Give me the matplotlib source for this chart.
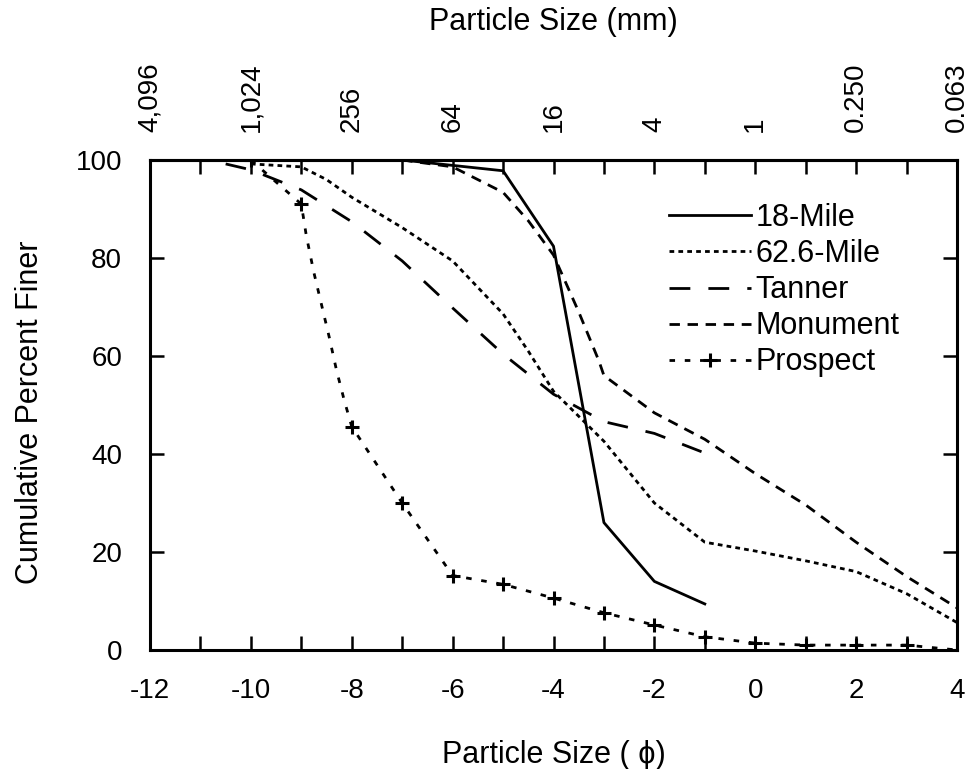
import matplotlib
matplotlib.use("Agg")
import matplotlib.pyplot as plt
from matplotlib.ticker import MultipleLocator, FixedLocator

plt.rcParams['font.family'] = ['Liberation Sans', 'DejaVu Sans']
plt.rcParams['lines.scale_dashes'] = False

# ---- data (phi units, cumulative percent finer) ----
phi_18 = [-7, -5, -4, -3, -2, -1]
pf_18 = [100, 97.8, 82.4, 26, 14, 9.4]

phi_626 = [-10, -9, -8.5, -8, -7, -6, -5, -4.5, -4, -3, -2, -1, 0, 1, 2, 3, 4]
pf_626 = [99.2, 98.6, 96, 92.4, 86.2, 79.4, 68.6, 61, 52.8, 42.6, 30, 22, 20.2, 18.2, 16, 11.5, 5.6]

phi_tan = [-10.5, -10, -9, -8, -7, -6, -5, -4, -3, -2, -1]
pf_tan = [99.2, 98, 93.9, 87.4, 79.4, 69.8, 60.4, 52.2, 46.6, 44.2, 40.2]

phi_mon = [-7, -6, -5, -4.5, -4, -3.5, -3.1, -3, -2, -1, 0, 1, 2, 3, 4]
pf_mon = [100, 98.6, 93.4, 87.6, 80.6, 69, 59, 56, 48.4, 43, 36, 29.6, 22, 15, 8.6]

phi_pro = [-10, -9, -8.9, -8.75, -8.6, -8.45, -8.3, -8.15, -8, -7, -6, -5, -4, -3, -2, -1, 0, 1, 2, 3, 4]
pf_pro = [100, 91, 84.5, 77, 70.5, 64, 57, 51, 45.6, 30, 15.2, 13.4, 10.6, 7.6, 5.1, 2.7, 1.4, 1.0, 1.0, 1.0, 0]
pro_marks = [0, 1, 8, 9, 10, 11, 12, 13, 14, 15, 16, 17, 18, 19, 20]

series_names = ["18-Mile", "62.6-Mile", "Tanner", "Monument", "Prospect"]

phi_ticks = [-12, -10, -8, -6, -4, -2, 0, 2, 4]
mm_labels = ["4,096", "1,024", "256", "64", "16", "4", "1", "0.250", "0.063"]
y_ticks = [0, 20, 40, 60, 80, 100]

FS = 20     # tick labels
FL = 22     # axis labels and legend

fig = plt.figure(figsize=(9.69, 7.69), dpi=100)
ax = fig.add_axes([150/969, 1-650/769, (957-150)/969, (650-160)/769])

lw = 2.0
ax.plot(phi_18, pf_18, color='black', lw=lw, ls='-', label=series_names[0])
ax.plot(phi_626, pf_626, color='black', lw=lw, ls=(0, (3.4, 3.0)), label=series_names[1])
ax.plot(phi_tan, pf_tan, color='black', lw=lw, ls=(0, (15, 13)), label=series_names[2])
ax.plot(phi_mon, pf_mon, color='black', lw=lw, ls=(0, (7.5, 5.5)), label=series_names[3])
ax.plot(phi_pro, pf_pro, color='black', lw=lw, ls=(0, (4, 7)), marker='+',
        markevery=pro_marks, markersize=10, markeredgewidth=2.2, label=series_names[4])

ax.set_xlim(-12, 4)
ax.set_ylim(0, 100)
for s in ax.spines.values():
    s.set_linewidth(2.2)

ax.xaxis.set_major_locator(FixedLocator(phi_ticks))
ax.xaxis.set_minor_locator(MultipleLocator(1))
ax.set_xticklabels([str(t) for t in phi_ticks])
ax.yaxis.set_major_locator(FixedLocator(y_ticks))
ax.set_yticklabels([str(t) for t in y_ticks])

ax.tick_params(axis='both', which='both', direction='in', width=1.8, length=10,
               labelsize=FS)
ax.tick_params(axis='x', which='both', pad=20)
ax.tick_params(axis='y', which='both', pad=20, right=True)

sec = ax.secondary_xaxis('top')
sec.xaxis.set_major_locator(FixedLocator(phi_ticks))
sec.xaxis.set_minor_locator(MultipleLocator(1))
sec.set_xticklabels(mm_labels, rotation=90)
sec.tick_params(axis='x', which='both', direction='in', width=1.8, length=10,
                labelsize=FS, pad=20)
sec.spines['top'].set_linewidth(2.2)

fig.text(30/969, 1 - 412/769, "Cumulative Percent Finer", fontsize=FL,
         rotation=90, ha='center', va='center')
fig.text(0.5 * (150 + 957) / 969, 1 - 755/769, "Particle Size ( ϕ)", fontsize=FL,
         ha='center', va='center')
fig.text(0.5 * (150 + 957) / 969, 1 - 22/769, "Particle Size (mm)", fontsize=FL,
         ha='center', va='center')

ax.legend(loc='upper left', bbox_to_anchor=(669/969, 1 - 203/769),
          bbox_transform=fig.transFigure, frameon=False, fontsize=FL,
          handlelength=2.68, handletextpad=0.16, labelspacing=0.2,
          borderpad=0, borderaxespad=0)

fig.savefig("out.png", dpi=100)
